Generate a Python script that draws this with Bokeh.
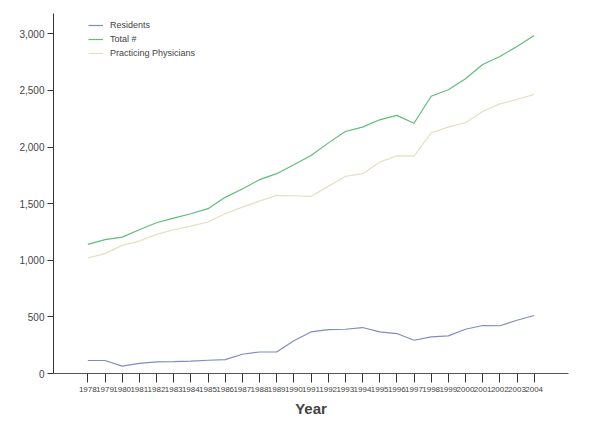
from bokeh.plotting import figure
from bokeh.models import Range1d, FixedTicker, NumeralTickFormatter, Legend, LegendItem
from bokeh.embed import file_html
from bokeh.resources import INLINE

years = list(range(1978, 2005))
residents = [115, 115, 65, 90, 102, 105, 110, 117, 123, 170, 190, 190, 290, 367,
             388, 391, 406, 367, 353, 294, 323, 332, 391, 424, 422, 470, 512]
total = [1140, 1182, 1205, 1270, 1332, 1373, 1411, 1456, 1556, 1630, 1712, 1765,
         1844, 1926, 2035, 2138, 2176, 2241, 2280, 2211, 2449, 2506, 2603, 2729,
         2800, 2888, 2985]
practicing = [1022, 1059, 1132, 1170, 1229, 1270, 1302, 1338, 1411, 1470, 1523,
              1573, 1570, 1564, 1653, 1741, 1765, 1867, 1924, 1920, 2126, 2176,
              2215, 2315, 2382, 2420, 2465]
y_ticks = [0, 500, 1000, 1500, 2000, 2500, 3000]

p = figure(width=596, height=420, output_backend="svg", toolbar_location=None,
           x_range=Range1d(1976, 2006), y_range=Range1d(0, 3180),
           min_border_left=53, min_border_right=28, min_border_top=13,
           min_border_bottom=47)
p.outline_line_color = None
p.xgrid.visible = False
p.ygrid.visible = False

r1 = p.line(years, residents, line_color="#7f8cc4", line_width=1.2)
r2 = p.line(years, total, line_color="#5fbd7c", line_width=1.2)
r3 = p.line(years, practicing, line_color="#e4e0c2", line_width=1.2)

font = "Liberation Sans"
xa = p.xaxis[0]
xa.ticker = FixedTicker(ticks=years)
xa.major_label_text_font = font
xa.major_label_text_font_size = "8px"
xa.major_label_standoff = 4
xa.major_tick_out = 9
xa.major_tick_in = 0
xa.minor_tick_out = 0
xa.minor_tick_in = 0
xa.axis_line_color = "#555555"
xa.major_tick_line_color = "#333333"
xa.axis_label = "Year"
xa.axis_label_text_font = font
xa.axis_label_text_font_size = "15px"
xa.axis_label_text_font_style = "bold"
xa.axis_label_standoff = 5

ya = p.yaxis[0]
ya.ticker = FixedTicker(ticks=y_ticks)
ya.formatter = NumeralTickFormatter(format="0,0")
ya.major_label_text_font = font
ya.major_label_text_font_size = "10px"
ya.major_label_standoff = 3
ya.major_tick_out = 6
ya.major_tick_in = 0
ya.minor_tick_out = 0
ya.minor_tick_in = 0
ya.axis_line_color = "#333333"
ya.major_tick_line_color = "#333333"

legend = Legend(items=[LegendItem(label="Residents", renderers=[r1]),
                       LegendItem(label="Total #", renderers=[r2]),
                       LegendItem(label="Practicing Physicians", renderers=[r3])],
                location=(35, 314), border_line_alpha=0, background_fill_alpha=0,
                label_text_font=font, label_text_font_size="9px",
                glyph_width=15, glyph_height=12, label_height=12, spacing=2,
                padding=0, margin=0, label_standoff=7)
p.add_layout(legend)

open("out.html", "w").write(file_html(p, INLINE))
